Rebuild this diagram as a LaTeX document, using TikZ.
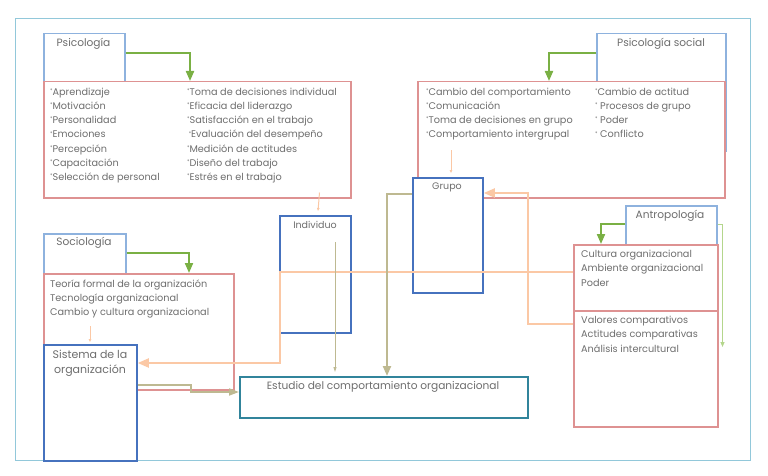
\documentclass[tikz,border=0pt]{standalone}
\usepackage{fontspec}
\setmainfont{Poppins}
\usetikzlibrary{arrows.meta}
\definecolor{frame}{RGB}{146,200,218}
\definecolor{discblue}{RGB}{142,178,222}
\definecolor{boxred}{RGB}{222,146,146}
\definecolor{unitblue}{RGB}{70,114,190}
\definecolor{tealc}{RGB}{49,132,155}
\definecolor{grn}{RGB}{122,176,68}
\definecolor{lgrn}{RGB}{180,214,140}
\definecolor{peach}{RGB}{251,200,165}
\definecolor{olive}{RGB}{190,185,145}
\definecolor{txt}{RGB}{110,110,110}
\newcommand{\mk}{\raisebox{0.3em}{\fontsize{5}{5}\selectfont*}}
\tikzset{
  disc/.style={draw=discblue, line width=1.5pt, fill=white, anchor=north west, inner sep=0pt},
  redbox/.style={draw=boxred, line width=1.5pt, fill=white, anchor=north west, inner sep=0pt},
  unitbox/.style={draw=unitblue, line width=1.8pt, fill=white, anchor=north west, inner sep=0pt},
  studybox/.style={draw=tealc, line width=1.8pt, fill=white, anchor=north west, inner sep=0pt},
  title/.style={font=\fontsize{10.6}{13}\selectfont, text=txt, inner sep=0pt},
  list/.style={font=\fontsize{9.7}{14.3}\selectfont, text=txt, align=left, anchor=north west, inner sep=0pt},
  garrow/.style={draw=grn, line width=2pt, -{Triangle[width=8pt,length=10pt]}},
  lgarrow/.style={draw=lgrn, line width=1pt, -{Triangle[width=4pt,length=5pt]}},
  parrow/.style={draw=peach, line width=2pt, -{Triangle[width=9pt,length=11pt]}},
  ptick/.style={draw=peach, line width=1pt, -{Triangle[width=2.5pt,length=3pt]}},
  oarrow/.style={draw=olive, line width=2.2pt, -{Triangle[width=8pt,length=10pt]}},
  othin/.style={draw=olive, line width=0.9pt, -{Triangle[width=3pt,length=5pt]}},
}
\begin{document}
\begin{tikzpicture}[x=1pt,y=-1pt]
\useasboundingbox (0,0) rectangle (768,476);
\draw[frame, line width=1pt] (15,19) rectangle (750,460);

% Psicologia
\node[disc, minimum width=81pt, minimum height=48pt] (psyb) at (43,33) {};
\node[redbox, minimum width=307pt, minimum height=116pt] (psyr) at (43,81) {};
\node[title] (psyt) at (83.5,44) {Psicología};
\node[list] (psyl1) at (50,87.5) {\mk Aprendizaje\\\mk Motivación\\\mk Personalidad\\\mk Emociones\\\mk Percepción\\\mk Capacitación\\\mk Selección de personal};
\node[list] (psyl2) at (187,87.5) {\mk Toma de decisiones individual\\\mk Eficacia del liderazgo\\\mk Satisfacción en el trabajo\\\,\mk Evaluación del desempeño\\\mk Medición de actitudes\\\mk Diseño del trabajo\\\mk Estrés en el trabajo};

% Individuo
\node[unitbox, minimum width=71pt, minimum height=117pt] (ind) at (279,215) {};
\node[title, font=\fontsize{9.5}{12}\selectfont] (indt) at (315,225) {Individuo};

% Sociologia
\node[disc, minimum width=82pt, minimum height=40pt] (socb) at (43,233) {};
\node[redbox, minimum width=190pt, minimum height=116pt] (socr) at (43,273) {};
\node[title] (soct) at (84,243) {Sociología};
\node[list] (socl) at (50,279.5) {Teoría formal de la organización\\Tecnología organizacional\\Cambio y cultura organizacional};
\node[unitbox, minimum width=93pt, minimum height=116pt] (sis) at (43,344) {};
\node[title, align=center, font=\fontsize{11}{15}\selectfont] (sist) at (90,363) {Sistema de la\\organización};

% Estudio
\node[studybox, minimum width=288pt, minimum height=41pt] (est) at (239,376) {};
\node[title] (estt) at (383,387) {Estudio del comportamiento organizacional};

% Psicologia social
\node[disc, minimum width=129pt, minimum height=117pt] (psocb) at (596,33) {};
\node[redbox, minimum width=307pt, minimum height=116pt] (psocr) at (417,81) {};
\node[title] (psoct) at (661,44) {Psicología social};
\node[list] (psocl1) at (426,87.5) {\mk Cambio del comportamiento\\\mk Comunicación\\\mk Toma de decisiones en grupo\\\mk Comportamiento intergrupal};
\node[list] (psocl2) at (595,87.5) {\mk Cambio de actitud\\\mk\ Procesos de grupo\\\mk\ Poder\\\mk\ Conflicto};

% Grupo
\node[unitbox, minimum width=70pt, minimum height=115pt] (grp) at (412,177) {};
\node[title, font=\fontsize{9.5}{12}\selectfont] (grpt) at (447,187) {Grupo};

% Antropologia
\node[disc, minimum width=91pt, minimum height=39pt] (antb) at (625,205) {};
\node[redbox, minimum width=144pt, minimum height=66pt] (ant1) at (573,244) {};
\node[redbox, minimum width=144pt, minimum height=116pt] (ant2) at (573,310) {};
\node[title] (antt) at (670,216) {Antropología};
\node[list] (antl1) at (581,250) {Cultura organizacional\\Ambiente organizacional\\Poder};
\node[list] (antl2) at (581,316) {Valores comparativos\\Actitudes comparativas\\Análisis intercultural};

% green connectors
\draw[garrow] ([yshift=-20pt]psyb.north east) -| ([xshift=147pt]psyr.north west);
\draw[garrow] ([yshift=-20pt]socb.north east) -| ([xshift=146pt]socr.north west);
\draw[garrow] ([yshift=-20pt]psocb.north west) -| ([xshift=132pt]psocr.north west);
\draw[garrow] ([yshift=-19pt]antb.north west) -| ([xshift=28pt]ant1.north west);
\draw[lgarrow] ([yshift=-19pt]antb.north east) -| ([xshift=4pt,yshift=-37pt]ant2.north east);

% small ticks
\draw[ptick] ([xshift=-32pt,yshift=6pt]psyr.south east) -- ([xshift=39pt,yshift=4pt]ind.north west);
\draw[ptick] ([xshift=47pt,yshift=-53pt]socr.north west) -- ([xshift=47pt,yshift=2pt]sis.north west);
\draw[ptick] ([xshift=34pt,yshift=-69pt]psocr.north west) -- ([xshift=39pt,yshift=4pt]grp.north west);

% peach connectors
\draw[parrow] ([yshift=-28pt]ant1.north west) -| ([xshift=1pt,yshift=-148pt]ind.north west) -- ([yshift=-19pt]sis.north east);
\draw[parrow] ([yshift=-14pt]ant2.north west) -- ++(-45,0) |- ([yshift=-16pt]grp.north east);

% olive connectors
\draw[oarrow] ([yshift=-17pt]grp.north west) -| ([xshift=148pt]est.north west);
\draw[othin] ([xshift=56pt,yshift=-27pt]ind.north west) -- ([xshift=96pt,yshift=4pt]est.north west);
\draw[draw=olive, line width=1.8pt, -{Triangle[width=7pt,length=10pt]}] ([yshift=-41pt]sis.north east) -- ++(53,0) -- ++(0,7) -- ([yshift=-16pt]est.north west);
\end{tikzpicture}
\end{document}
